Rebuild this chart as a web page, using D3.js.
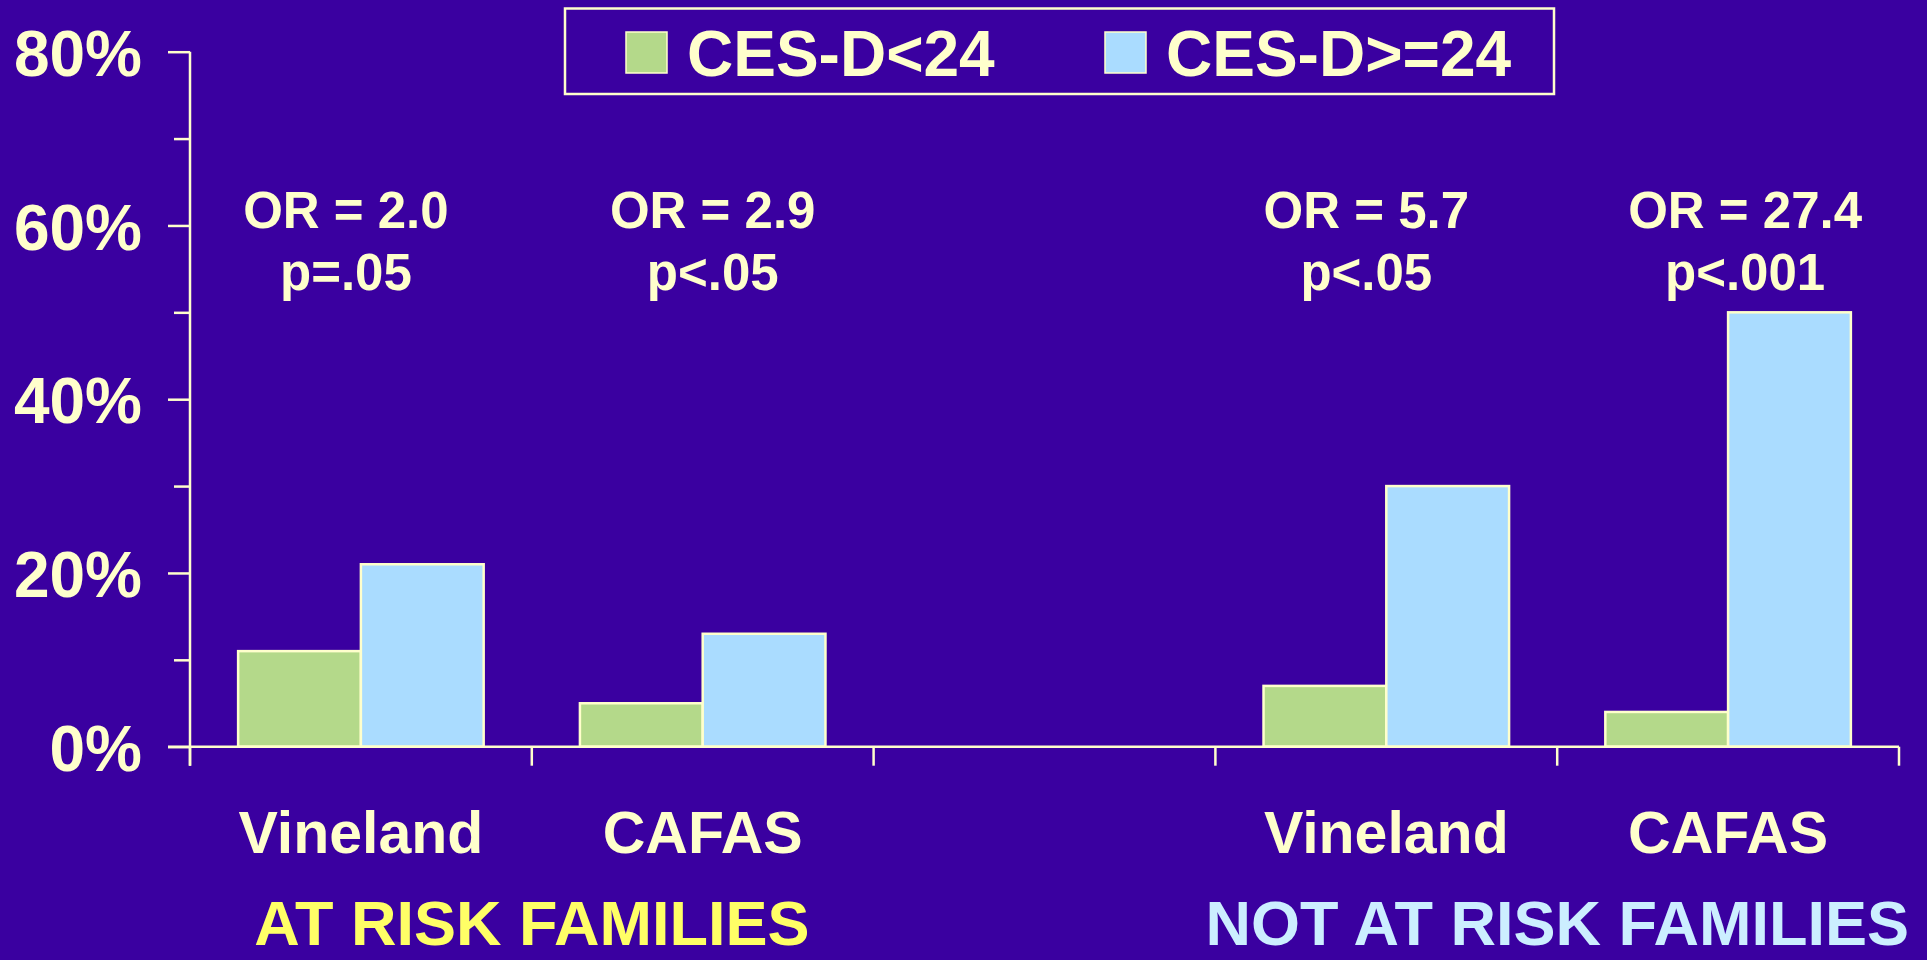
<!DOCTYPE html>
<html>
<head>
<meta charset="utf-8">
<script src="https://cdn.jsdelivr.net/npm/d3@7"></script>
<style>
  html, body { margin: 0; padding: 0; background: #3a00a0; overflow: hidden; }
  svg { display: block; }
  text { font-family: "Liberation Sans", Arial, sans-serif; font-weight: bold; }
</style>
</head>
<body>
<svg id="chart" width="1927" height="960"></svg>
<script>
// ---- data ----
const categoryKeys   = ["ar-vineland", "ar-cafas", "gap", "nar-vineland", "nar-cafas"];
const categoryLabels = ["Vineland", "CAFAS", "", "Vineland", "CAFAS"];
const seriesNames    = ["CES-D<24", "CES-D>=24"];
const lowScores      = [11, 5, null, 7, 4];     // CES-D<24 (%)
const highScores     = [21, 13, null, 30, 50];  // CES-D>=24 (%)
const oddsRatios     = ["OR = 2.0", "OR = 2.9", null, "OR = 5.7", "OR = 27.4"];
const pValues        = ["p=.05", "p<.05", null, "p<.05", "p<.001"];
const groupNames     = ["AT RISK FAMILIES", "NOT AT RISK FAMILIES"];
const groupMembers   = [["ar-vineland", "ar-cafas"], ["nar-vineland", "nar-cafas"]];
const yMajorTicks    = [0, 20, 40, 60, 80];
const yMinorTicks    = [10, 30, 50, 70];

// ---- look ----
const ink = "#ffffcc";
const seriesColors = ["#b4d98a", "#aadcff"];
const groupColors  = ["#ffff66", "#cceeff"];
const noteShift    = [-15, 10, 0, -20, 17];

const svg = d3.select("#chart");

const x0 = d3.scaleBand().domain(categoryKeys).range([190, 1899]).padding(0);
const x1 = d3.scaleBand().domain(seriesNames).range([0, x0.bandwidth()])
  .paddingInner(0).paddingOuter(0.392);
const y = d3.scaleLinear().domain([0, 80]).range([746.7, 51.7]);
const color = d3.scaleOrdinal().domain(seriesNames).range(seriesColors);

const rows = categoryKeys.map((k, i) => ({
  key: k,
  values: [lowScores[i], highScores[i]]
}));

// ---- bars ----
const groups = svg.append("g").selectAll("g")
  .data(rows)
  .join("g")
  .attr("transform", d => `translate(${x0(d.key)},0)`);

groups.selectAll("rect")
  .data(d => d.values.map((v, j) => ({ series: seriesNames[j], value: v }))
                     .filter(e => e.value != null))
  .join("rect")
  .attr("x", e => x1(e.series))
  .attr("width", x1.bandwidth())
  .attr("y", e => y(e.value))
  .attr("height", e => y(0) - y(e.value))
  .attr("fill", e => color(e.series))
  .attr("stroke", ink)
  .attr("stroke-width", 2.5);

// ---- y axis ----
const yAxis = svg.append("g").attr("transform", "translate(190,0)")
  .call(d3.axisLeft(y).tickValues(yMajorTicks).tickSize(22).tickSizeOuter(0)
    .tickPadding(26).tickFormat(d => d + "%"));
yAxis.select(".domain").remove();
yAxis.selectAll("line").attr("stroke", ink).attr("stroke-width", 2.5);
yAxis.selectAll("text")
  .attr("fill", ink).attr("font-size", 64).attr("dy", "0.37em");

const yMinor = svg.append("g").attr("transform", "translate(190,0)")
  .call(d3.axisLeft(y).tickValues(yMinorTicks).tickSize(16).tickFormat(""));
yMinor.select(".domain").remove();
yMinor.selectAll("line").attr("stroke", ink).attr("stroke-width", 2.5);

svg.append("line")
  .attr("x1", 190).attr("x2", 190)
  .attr("y1", y(80)).attr("y2", y(0) + 19)
  .attr("stroke", ink).attr("stroke-width", 2.5);

// ---- x axis ----
const boundaries = categoryKeys.map(k => x0(k)).concat([x0.range()[1]]);
svg.append("line")
  .attr("x1", 168).attr("x2", x0.range()[1])
  .attr("y1", y(0)).attr("y2", y(0))
  .attr("stroke", ink).attr("stroke-width", 2.5);
svg.append("g").selectAll("line")
  .data(boundaries)
  .join("line")
  .attr("x1", d => d).attr("x2", d => d)
  .attr("y1", y(0)).attr("y2", y(0) + 19)
  .attr("stroke", ink).attr("stroke-width", 2.5);

svg.append("g").selectAll("text")
  .data(categoryKeys.map((k, i) => ({ key: k, label: categoryLabels[i] })).filter(d => d.label))
  .join("text")
  .attr("x", d => x0(d.key) + x0.bandwidth() / 2)
  .attr("y", 853)
  .attr("text-anchor", "middle")
  .attr("font-size", 59)
  .attr("fill", ink)
  .text(d => d.label);

// ---- group captions ----
svg.append("g").selectAll("text")
  .data(groupNames.map((n, i) => ({ name: n, members: groupMembers[i], color: groupColors[i] })))
  .join("text")
  .attr("x", d => (x0(d.members[0]) + x0(d.members[d.members.length - 1]) + x0.bandwidth()) / 2)
  .attr("y", 945)
  .attr("text-anchor", "middle")
  .attr("font-size", 63)
  .attr("fill", d => d.color)
  .text(d => d.name);

// ---- odds ratio notes ----
const notes = svg.append("g").selectAll("g")
  .data(categoryKeys.map((k, i) => ({ key: k, or: oddsRatios[i], p: pValues[i], shift: noteShift[i] }))
    .filter(d => d.or))
  .join("g")
  .attr("transform", d => `translate(${x0(d.key) + x0.bandwidth() / 2 + d.shift},0)`);
notes.append("text")
  .attr("y", 228).attr("text-anchor", "middle")
  .attr("font-size", 51).attr("fill", ink)
  .text(d => d.or);
notes.append("text")
  .attr("y", 290).attr("text-anchor", "middle")
  .attr("font-size", 51).attr("fill", ink)
  .text(d => d.p);

// ---- legend ----
const legend = svg.append("g");
legend.append("rect")
  .attr("x", 565).attr("y", 8.5).attr("width", 989).attr("height", 85.5)
  .attr("fill", "none").attr("stroke", ink).attr("stroke-width", 2.5);
const legendX = [626, 1105];
const items = legend.selectAll("g.item")
  .data(seriesNames)
  .join("g")
  .attr("class", "item")
  .attr("transform", (d, i) => `translate(${legendX[i]},0)`);
items.append("rect")
  .attr("x", 0).attr("y", 32).attr("width", 41).attr("height", 41)
  .attr("fill", d => color(d)).attr("stroke", ink).attr("stroke-width", 1.5);
items.append("text")
  .attr("x", 61).attr("y", 76)
  .attr("font-size", 64).attr("fill", ink)
  .text(d => d);
</script>
</body>
</html>
